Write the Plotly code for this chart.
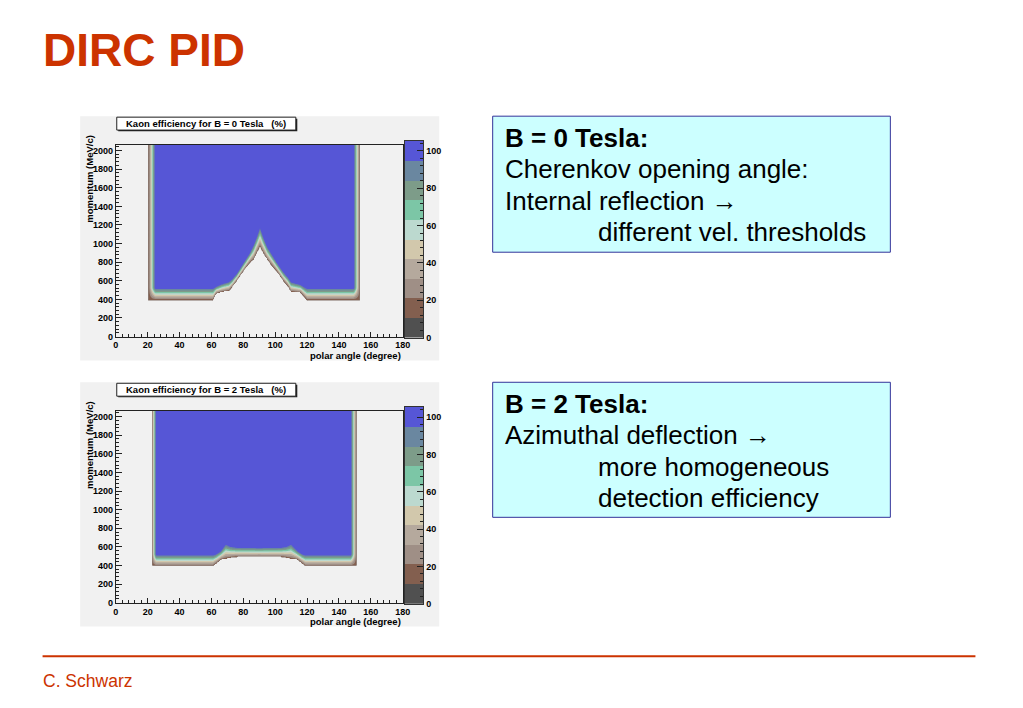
import numpy as np
import plotly.graph_objects as go

W, H = 1023, 708

# ---------------- values ----------------
mom_max = 2060            # top of the momentum axis (MeV/c)
polar_step = 0.5          # grid step in polar angle (degree)
mom_step = 10             # grid step in momentum (MeV/c)

# contour levels and ROOT palette colours (low -> high)
levels = [0, 10.5, 21, 31.5, 42, 52.5, 63, 73.5, 84, 94.5]
band_top = 105.3
band_colors = ["#505050", "#835f4f", "#9f8f86", "#b5a99d", "#d2c8ac",
               "#bcd9cf", "#7cc6a6", "#7d9c89", "#6a87a0", "#5656d6"]
bar_ticks = [0, 20, 40, 60, 80, 100]
x_ticks = list(range(0, 181, 20))
y_ticks = list(range(0, 2001, 200))

# B = 0 Tesla: lower edge of the accepted region
# (momentum where efficiency starts / where it is full), per polar angle
b0_theta = [25, 61, 63, 66, 71, 73, 76, 80, 84, 86.5, 88.5, 90.5, 92.5, 95, 97, 101, 105, 108, 110, 116, 118, 120, 148]
b0_p_on = [390, 390, 460, 475, 490, 530, 600, 700, 790, 826, 897, 962, 897, 826, 780, 700, 600, 540, 480, 470, 430, 390, 390]
b0_p_full = [522, 522, 540, 565, 594, 620, 680, 790, 900, 990, 1080, 1182, 1080, 970, 915, 800, 701, 640, 590, 560, 540, 522, 522]
b0_sides = [20.5, 24.8, 149.3, 153.3]      # left on, left full, right full, right on

# B = 2 Tesla
b2_theta = [25, 61, 63, 66, 69, 72, 76, 90, 104, 107, 110, 114, 117, 119, 147]
b2_p_on = [392, 392, 420, 460, 468, 480, 490, 492, 490, 480, 468, 460, 420, 392, 392]
b2_p_full = [518, 518, 528, 560, 635, 610, 598, 595, 598, 610, 635, 560, 528, 518, 518]
b2_sides = [22.6, 25.3, 147.5, 151.2]

titles = ["Kaon efficiency for B = 0 Tesla   (%)", "Kaon efficiency for B = 2 Tesla   (%)"]
box1_lines = ["<b>B = 0 Tesla:</b>", "Cherenkov opening angle:", "Internal reflection \u2192",
              "different vel. thresholds"]
box2_lines = ["<b>B = 2 Tesla:</b>", "Azimuthal deflection \u2192", "more homogeneous",
              "detection efficiency"]
box1_indent = [False, False, False, True]
box2_indent = [False, False, True, True]

ORANGE = "#cc3300"
PAD = "#f1f1f1"
FONT = "Liberation Sans, Arial, sans-serif"


def X(px):
    return px / W


def Y(py):
    return 1 - py / H


def efficiency_map(theta_pts, p_on, p_full, sides):
    th = np.arange(0, 180 + 1e-9, polar_step)
    p = np.arange(0, mom_max + 1e-9, mom_step)
    p0 = np.interp(th, theta_pts, p_on)
    p1 = np.interp(th, theta_pts, p_full)
    fb = (p[:, None] - p0[None, :]) / (p1 - p0)[None, :]
    fl = (th - sides[0]) / (sides[1] - sides[0])
    fr = (sides[3] - th) / (sides[3] - sides[2])
    fs = np.minimum(fl, fr)[None, :]
    fb = np.clip(fb, -1, 1)
    fs = np.clip(fs, -1, 1)
    inside = (fb >= 0) & (fs >= 0)
    z = np.where(inside, 12 + 90 * fb * fs, -300.0)
    return th, p, z


colorscale = [[0.0, PAD]] + [[(i + 1) / 10, c] for i, c in enumerate(band_colors)]

fig = go.Figure()

panels = [
    dict(data=(b0_theta, b0_p_on, b0_p_full, b0_sides), dy=0, ax=("x", "y"), cb=("x2", "y2")),
    dict(data=(b2_theta, b2_p_on, b2_p_full, b2_sides), dy=268, ax=("x3", "y3"), cb=("x4", "y4")),
]

shapes = []
annotations = []
layout_axes = {}

tickfont = dict(family=FONT, size=9, color="black", weight="bold")

for k, pn in enumerate(panels):
    dy = pn["dy"]
    th, p, z = efficiency_map(*pn["data"])
    fig.add_trace(go.Contour(
        x=th, y=p, z=z, xaxis=pn["ax"][0], yaxis=pn["ax"][1],
        autocontour=False,
        contours=dict(start=levels[0], end=levels[-1], size=levels[1] - levels[0],
                      coloring="fill", showlines=False),
        colorscale=colorscale, showscale=False,
        line=dict(width=0, smoothing=1), hoverinfo="skip",
    ))
    heights = [levels[i + 1] - levels[i] for i in range(len(levels) - 1)] + [band_top - levels[-1]]
    fig.add_trace(go.Bar(
        x=[0] * len(levels), y=heights, base=levels, width=1,
        marker=dict(color=band_colors, line=dict(width=0)),
        xaxis=pn["cb"][0], yaxis=pn["cb"][1], hoverinfo="skip", showlegend=False,
    ))

    xa = "xaxis" if k == 0 else "xaxis3"
    ya = "yaxis" if k == 0 else "yaxis3"
    xa_cb = "xaxis2" if k == 0 else "xaxis4"
    ya_cb = "yaxis2" if k == 0 else "yaxis4"

    layout_axes[xa] = dict(
        domain=[X(114), X(404)], anchor=pn["ax"][1], range=[0, 180],
        showline=True, mirror=True, linecolor="#222", linewidth=1,
        ticks="inside", ticklen=5, tickcolor="#222", tickvals=x_ticks,
        minor=dict(ticks="inside", ticklen=3, dtick=4, tickcolor="#222"),
        tickfont=tickfont, showgrid=False, zeroline=False, fixedrange=True,
    )
    layout_axes[ya] = dict(
        domain=[Y(339 + dy), Y(146 + dy)], anchor=pn["ax"][0], range=[0, mom_max],
        showline=True, mirror=True, linecolor="#222", linewidth=1,
        ticks="inside", ticklen=6, tickcolor="#222", tickvals=y_ticks,
        minor=dict(ticks="inside", ticklen=3, dtick=40, tickcolor="#222"),
        tickfont=tickfont, showgrid=False, zeroline=False, fixedrange=True,
    )
    layout_axes[xa_cb] = dict(
        domain=[X(406), X(425)], anchor=pn["cb"][1], range=[-0.5, 0.5],
        showticklabels=False, ticks="", showline=True, mirror=True,
        linecolor="#333", linewidth=1, showgrid=False, zeroline=False, fixedrange=True,
    )
    layout_axes[ya_cb] = dict(
        domain=[Y(340 + dy), Y(142 + dy)], anchor=pn["cb"][0], range=[0, band_top],
        side="right", showline=True, mirror=True, linecolor="#333", linewidth=1,
        ticks="inside", ticklen=6, tickcolor="#222", tickvals=bar_ticks,
        minor=dict(ticks="inside", ticklen=3, dtick=4, tickcolor="#222"),
        tickfont=tickfont, showgrid=False, zeroline=False, fixedrange=True,
    )

    # ROOT pad background
    shapes.append(dict(type="rect", xref="paper", yref="paper", layer="below",
                       x0=X(78), x1=X(441), y0=Y(363 + dy), y1=Y(117 + dy),
                       fillcolor=PAD, line=dict(width=0)))
    # title box with shadow
    shapes.append(dict(type="rect", xref="paper", yref="paper", layer="above",
                       x0=X(116.5), x1=X(297.5), y0=Y(132.2 + dy), y1=Y(119.5 + dy),
                       fillcolor="#222", line=dict(width=0)))
    shapes.append(dict(type="rect", xref="paper", yref="paper", layer="above",
                       x0=X(115), x1=X(296), y0=Y(131 + dy), y1=Y(118 + dy),
                       fillcolor="white", line=dict(color="#222", width=1)))
    annotations.append(dict(xref="paper", yref="paper", x=X(205), y=Y(124.5 + dy),
                            text="<b>" + titles[k] + "</b>", showarrow=False,
                            xanchor="center", yanchor="middle",
                            font=dict(family=FONT, size=9.5, color="black")))
    annotations.append(dict(xref="paper", yref="paper", x=X(88), y=Y(180 + dy),
                            text="<b>momentum (MeV/c)</b>", showarrow=False, textangle=-90,
                            xanchor="center", yanchor="middle",
                            font=dict(family=FONT, size=9.5, color="black")))
    annotations.append(dict(xref="paper", yref="paper", x=X(404), y=Y(358 + dy),
                            text="<b>polar angle (degree)</b>", showarrow=False,
                            xanchor="right", yanchor="middle",
                            font=dict(family=FONT, size=9.5, color="black")))

# text boxes on the right
for (top, bot, lines, indent, y_first) in [
        (117, 254, box1_lines, box1_indent, 139),
        (385, 521, box2_lines, box2_indent, 407)]:
    shapes.append(dict(type="rect", xref="paper", yref="paper", layer="below",
                       x0=X(495), x1=X(897), y0=Y(bot), y1=Y(top),
                       fillcolor="#ccffff", line=dict(color="#33339a", width=1)))
    for i, (txt, ind) in enumerate(zip(lines, indent)):
        annotations.append(dict(xref="paper", yref="paper",
                                x=X(599 if ind else 505), y=Y(y_first + 31.5 * i),
                                text=txt, showarrow=False, xanchor="left", yanchor="middle",
                                font=dict(family=FONT, size=26, color="black")))

# slide title, footer line and author
annotations.append(dict(xref="paper", yref="paper", x=X(38), y=Y(50), text="<b>DIRC PID</b>",
                        showarrow=False, xanchor="left", yanchor="middle",
                        font=dict(family=FONT, size=46, color=ORANGE)))
shapes.append(dict(type="line", xref="paper", yref="paper", x0=X(40), x1=X(983),
                   y0=Y(661), y1=Y(661), line=dict(color=ORANGE, width=2)))
annotations.append(dict(xref="paper", yref="paper", x=X(38), y=Y(686), text="C. Schwarz",
                        showarrow=False, xanchor="left", yanchor="middle",
                        font=dict(family=FONT, size=17.5, color=ORANGE)))

fig.update_layout(
    width=W, height=H, autosize=False,
    margin=dict(l=0, r=0, t=0, b=0, pad=0),
    paper_bgcolor="white", plot_bgcolor="rgba(0,0,0,0)",
    showlegend=False, barmode="overlay", bargap=0,
    shapes=shapes, annotations=annotations,
    **layout_axes,
)

fig.write_html("out.html", config={"displayModeBar": False},
               post_script="document.body.style.margin='0';document.body.style.overflow='hidden';")
